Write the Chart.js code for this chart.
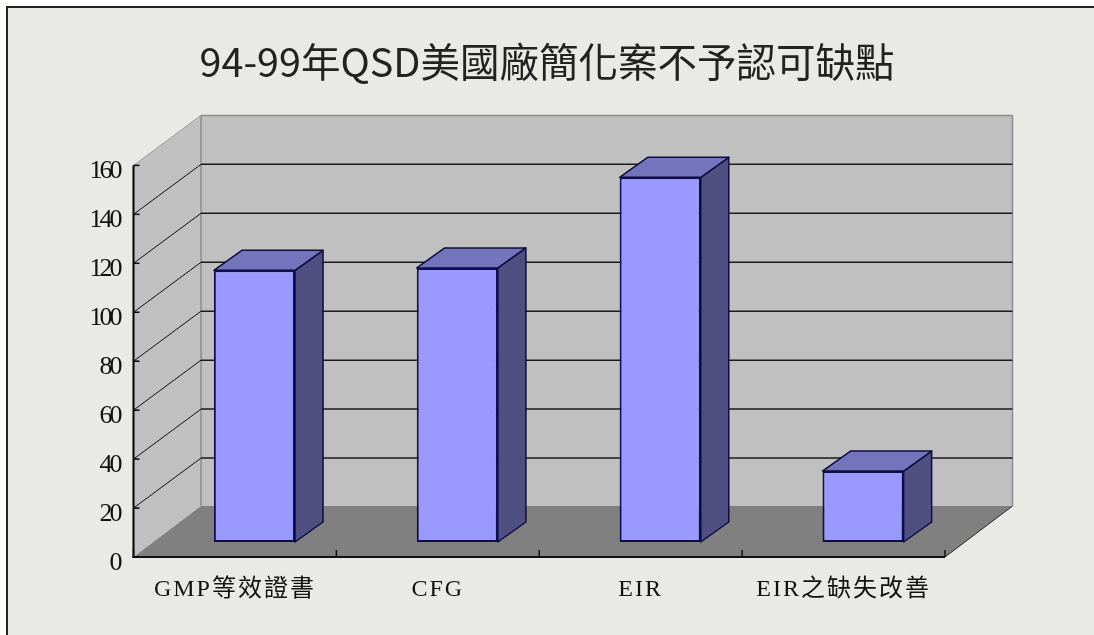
<!DOCTYPE html>
<html>
<head>
<meta charset="utf-8">
<script src="https://cdn.jsdelivr.net/npm/chart.js@4"></script>
<style>
html,body{margin:0;padding:0;background:#fff;width:1094px;height:635px;overflow:hidden}
#panel{position:absolute;left:6px;top:6px;right:0;bottom:0;background:#E9E9E5;border-left:2px solid #222;border-top:2px solid #222}
canvas{position:absolute;left:0;top:0}
</style>
</head>
<body>
<div id="panel"></div>
<canvas id="c" width="1094" height="635"></canvas>
<script>
const titleText = '94-99年QSD美國廠簡化案不予認可缺點';
const categories = ['GMP等效證書', 'CFG', 'EIR', 'EIR之缺失改善'];
const defects = [111, 112, 149, 29];
const yMin = 0, yMax = 160, yStep = 20;

const WALL = {dx: 67.5, dy: -51};
const BAR_OFFSET = {dx: 19.5, dy: -15};
const BAR_DEPTH = {dx: 28, dy: -20};

function poly(ctx, pts, fill, stroke, lw) {
  ctx.beginPath();
  pts.forEach((p, i) => i ? ctx.lineTo(p[0], p[1]) : ctx.moveTo(p[0], p[1]));
  ctx.closePath();
  if (fill) { ctx.fillStyle = fill; ctx.fill(); }
  if (stroke) { ctx.strokeStyle = stroke; ctx.lineWidth = lw || 1; ctx.stroke(); }
}
function line(ctx, x1, y1, x2, y2, color, lw) {
  ctx.beginPath(); ctx.moveTo(x1, y1); ctx.lineTo(x2, y2);
  ctx.strokeStyle = color; ctx.lineWidth = lw; ctx.stroke();
}

const labelTweaks = {
  id: 'labelTweaks',
  beforeDraw(chart) {
    const wrap = (scale, spacing, dy) => {
      if (scale._wrapped) return;
      scale._wrapped = true;
      const orig = scale.drawLabels.bind(scale);
      scale.drawLabels = function (area) {
        const ctx = chart.ctx;
        ctx.save();
        ctx.letterSpacing = spacing;
        ctx.translate(0, dy);
        orig(area);
        ctx.restore();
      };
    };
    wrap(chart.scales.y, '-3px', 6);
    wrap(chart.scales.x, '2px', 0);
  }
};

const box3d = {
  id: 'box3d',
  beforeDatasetsDraw(chart) {
    const ctx = chart.ctx, a = chart.chartArea;
    const ys = chart.scales.y;
    const L = a.left, R = a.right, B = ys.getPixelForValue(yMin), T = ys.getPixelForValue(yMax);
    const dx = WALL.dx, dy = WALL.dy;
    ctx.save();
    poly(ctx, [[L + dx, T + dy + 1], [R + dx, T + dy + 1], [R + dx, B + dy], [L + dx, B + dy]], '#C0C0C0');
    poly(ctx, [[L, B], [L + dx, B + dy], [L + dx, T + dy + 1], [L, T]], '#C0C0C0');
    poly(ctx, [[L, B], [L + dx, B + dy], [R + dx, B + dy], [R, B]], '#808080');
    ctx.lineJoin = 'miter';
    line(ctx, L, T, L + dx, T + dy + 1, '#9a9a9a', 1);
    line(ctx, L + dx, T + dy + 1, R + dx, T + dy + 1, '#8c8c8c', 1.5);
    line(ctx, R + dx, T + dy + 1, R + dx, B + dy, '#8c8c8c', 1.5);
    line(ctx, L + dx, T + dy + 1, L + dx, B + dy, '#8c8c8c', 1.5);
    ys.ticks.forEach(t => {
      if (t.value === yMin || t.value === yMax) return;
      const y = ys.getPixelForValue(t.value);
      line(ctx, L, y, L + dx, y + dy + 1, '#111', 1);
      line(ctx, L + dx, y + dy + 1, R + dx, y + dy + 1, '#1a1a1a', 1.5);
    });
    line(ctx, R, B, R + dx, B + dy, '#222', 1);
    line(ctx, L, T, L, B + 1, '#000', 2);
    line(ctx, L - 1, B, R, B, '#111', 2);
    ys.ticks.forEach(t => {
      const y = ys.getPixelForValue(t.value);
      line(ctx, L, y, L + 6, y, '#000', 1.5);
    });
    for (let i = 0; i <= categories.length; i++) {
      const x = L + (R - L) * i / categories.length;
      line(ctx, x, B, x, B - 7, '#111', 1.5);
    }
    const meta = chart.getDatasetMeta(0);
    const ox = BAR_OFFSET.dx, oy = BAR_OFFSET.dy, ddx = BAR_DEPTH.dx, ddy = BAR_DEPTH.dy;
    ctx.lineJoin = 'round';
    meta.data.forEach(el => {
      const p = el.getProps(['x', 'y', 'width', 'base'], true);
      const l = p.x - p.width / 2 + ox, r = p.x + p.width / 2 + ox;
      const t = p.y + oy, b = p.base + oy;
      poly(ctx, [[r, t], [r + ddx, t + ddy], [r + ddx, b + ddy], [r, b]], '#4F4F82', '#0D0D40', 1.5);
      poly(ctx, [[l, t], [l + ddx, t + ddy], [r + ddx, t + ddy], [r, t]], '#7474BC', '#0D0D40', 1.5);
    });
    ctx.restore();
    ctx.save();
    ctx.translate(ox, oy);
  },
  afterDatasetsDraw(chart) { chart.ctx.restore(); }
};

new Chart(document.getElementById('c'), {
  type: 'bar',
  data: {
    labels: categories,
    datasets: [{
      data: defects,
      backgroundColor: '#9999FF',
      borderColor: '#0D0D50',
      borderWidth: 2,
      borderSkipped: false,
      barPercentage: 0.4,
      categoryPercentage: 1,
      clip: false
    }]
  },
  plugins: [labelTweaks, box3d],
  options: {
    responsive: false,
    animation: false,
    layout: {padding: 0},
    plugins: {
      legend: {display: false},
      tooltip: {enabled: false},
      title: {
        display: true,
        text: titleText,
        color: '#222',
        font: {family: '"Noto Sans CJK TC","Noto Sans"', size: 39.5, weight: 'normal', lineHeight: 1.2},
        padding: {top: 38, bottom: 80}
      }
    },
    scales: {
      x: {
        grid: {display: false},
        border: {display: false},
        ticks: {color: '#111', padding: 10, maxRotation: 0, autoSkip: false,
          font: {family: '"Liberation Serif","Noto Sans CJK TC"', size: 24}},
        afterFit(s) { s.height = 78; }
      },
      y: {
        min: yMin, max: yMax,
        grid: {display: false},
        border: {display: false},
        ticks: {stepSize: yStep, color: '#111', padding: 6,
          font: {family: '"Liberation Serif"', size: 26}},
        afterFit(s) { s.width = 133.5; }
      },
      pad: {
        position: 'right',
        display: true,
        grid: {display: false},
        border: {display: false},
        ticks: {display: false},
        afterFit(s) { s.width = 149; }
      }
    }
  }
});
</script>
</body>
</html>
